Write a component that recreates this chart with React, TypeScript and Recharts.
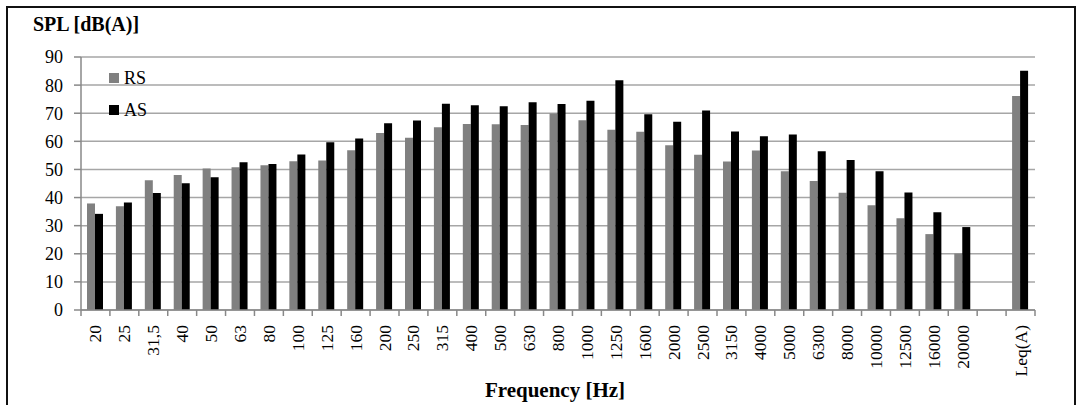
import React from "react";
import { BarChart, Bar, XAxis, YAxis, CartesianGrid } from "recharts";

const categories = [
  "20", "25", "31,5", "40", "50", "63", "80", "100", "125", "160", "200", "250",
  "315", "400", "500", "630", "800", "1000", "1250", "1600", "2000", "2500",
  "3150", "4000", "5000", "6300", "8000", "10000", "12500", "16000", "20000",
  "", "Leq(A)",
];

const rsLevels = [
  37.9, 36.9, 46.2, 48, 50.3, 50.8, 51.5, 52.9, 53.2, 56.8, 63, 61.3,
  65, 66.2, 66.1, 65.8, 69.9, 67.5, 64.1, 63.4, 58.6, 55.2,
  52.8, 56.7, 49.4, 45.9, 41.7, 37.3, 32.6, 27, 20.1,
  null, 76.1,
];

const asLevels = [
  34.2, 38.2, 41.6, 45.1, 47.2, 52.6, 51.9, 55.3, 59.7, 61, 66.4, 67.4,
  73.4, 72.8, 72.5, 73.9, 73.3, 74.4, 81.7, 69.6, 67, 71,
  63.5, 61.8, 62.4, 56.5, 53.4, 49.4, 41.8, 34.8, 29.5,
  null, 85.1,
];

const yTicks = [0, 10, 20, 30, 40, 50, 60, 70, 80, 90];

const seriesInfo = [
  { key: "RS", color: "#808080" },
  { key: "AS", color: "#000" },
];

const data = categories.map((name, i) => ({ name, RS: rsLevels[i], AS: asLevels[i] }));

const FONT = '"Liberation Serif", "Times New Roman", Times, "DejaVu Serif", "Noto Serif", serif';
const W = 1083;
const H = 405;
const PLOT_LEFT = 81;
const PLOT_RIGHT = 1035;
const PLOT_TOP = 57;
const PLOT_BOTTOM = 310;
const BAND = (PLOT_RIGHT - PLOT_LEFT) / categories.length;

const FreqTick = (props: any) => {
  const { x, payload, index } = props;
  const labelY = PLOT_BOTTOM + 15;
  const isLast = index === categories.length - 1;
  return (
    <g>
      <line x1={x - BAND / 2} x2={x - BAND / 2} y1={PLOT_BOTTOM} y2={PLOT_BOTTOM + 6} stroke="#888" strokeWidth={1.5} />
      {isLast && (
        <line x1={x + BAND / 2} x2={x + BAND / 2} y1={PLOT_BOTTOM} y2={PLOT_BOTTOM + 6} stroke="#888" strokeWidth={1.5} />
      )}
      <text
        x={x}
        y={labelY}
        transform={`rotate(-90, ${x}, ${labelY})`}
        textAnchor="end"
        dominantBaseline="central"
        style={{ fontFamily: FONT }}
        fontSize={17.5}
        fill="#000"
      >
        {payload.value}
      </text>
    </g>
  );
};

export default function App() {
  return (
    <div style={{ position: "absolute", left: 0, top: 0, width: W, height: H, overflow: "hidden", background: "#fff", fontFamily: FONT }}>
      <div
        style={{
          position: "absolute",
          left: 6,
          top: 6,
          width: 1070,
          height: 430,
          border: "2px solid #111",
          boxSizing: "border-box",
        }}
      />
      <div
        style={{
          position: "absolute",
          left: 33,
          top: 13,
          fontWeight: "bold",
          fontSize: 20,
          lineHeight: "22px",
          color: "#000",
        }}
      >
        SPL [dB(A)]
      </div>
      <div
        style={{
          position: "absolute",
          left: 0,
          width: 1110,
          top: 378,
          textAlign: "center",
          fontWeight: "bold",
          fontSize: 21,
          lineHeight: "24px",
          color: "#000",
        }}
      >
        Frequency [Hz]
      </div>
      <div style={{ position: "absolute", left: 0, top: 0 }}>
        <BarChart
          width={W}
          height={H}
          data={data}
          margin={{ top: PLOT_TOP, right: W - PLOT_RIGHT, left: 0, bottom: 0 }}
          barGap={0}
          barSize={8}
        >
          <CartesianGrid vertical={false} stroke="#a6a6a6" strokeWidth={1.5} />
          <XAxis
            dataKey="name"
            interval={0}
            height={H - PLOT_BOTTOM}
            tickLine={false}
            axisLine={{ stroke: "#888", strokeWidth: 1.5 }}
            tick={<FreqTick />}
          />
          <YAxis
            width={PLOT_LEFT}
            domain={[0, 90]}
            ticks={yTicks}
            interval={0}
            tickSize={7}
            tickMargin={11}
            tickLine={{ stroke: "#888", strokeWidth: 1.5 }}
            axisLine={{ stroke: "#888", strokeWidth: 1.5 }}
            tick={{ style: { fontFamily: FONT }, fontSize: 18, fill: "#000" }}
          />
          {seriesInfo.map((s) => (
            <Bar key={s.key} dataKey={s.key} fill={s.color} isAnimationActive={false} />
          ))}
        </BarChart>
      </div>
      <div style={{ position: "absolute", left: 109, top: 68, fontSize: 18, lineHeight: "20px", color: "#000" }}>
        {seriesInfo.map((s, i) => (
          <div key={s.key} style={{ display: "flex", alignItems: "center", marginBottom: i === 0 ? 12 : 0 }}>
            <span style={{ display: "inline-block", width: 10, height: 10, background: s.color, marginRight: 5 }} />
            <span>{s.key}</span>
          </div>
        ))}
      </div>
    </div>
  );
}
